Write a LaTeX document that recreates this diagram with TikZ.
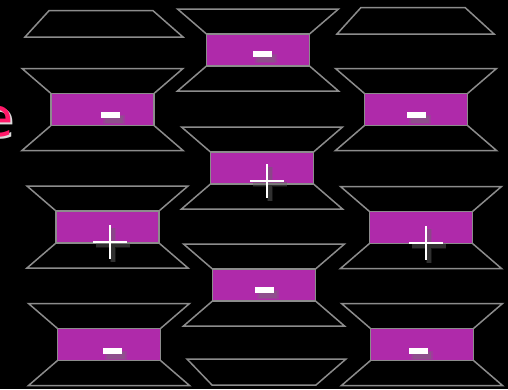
\documentclass[tikz,border=0pt]{standalone}
\usepackage{fontspec}
\setmainfont{DejaVu Sans}
\definecolor{magfill}{RGB}{175,42,170}
\definecolor{framegray}{RGB}{140,140,140}
\definecolor{epink}{RGB}{255,25,105}
\tikzset{
  magbox/.style={draw=framegray, line width=1.3pt, fill=magfill, minimum width=103pt, minimum height=32pt, inner sep=0pt, outer sep=0pt},
  frame/.style={draw=framegray, line width=1.5pt, line join=miter},
  signshadow/.style={draw=black!60, opacity=0.35, line cap=butt},
}
\newcommand\hgunit[3]{%
  \node[magbox] (#1) at (#2,#3) {};
  \draw[frame] (#1.north west) -- ++(-29,-25) -- ++(161,0) -- (#1.north east);
  \draw[frame] (#1.south west) -- ++(-29,25) -- ++(161,0) -- (#1.south east);
}
\newcommand\minussign[2]{%
  \begin{scope}[shift={(#1,#2)}]
    \fill[black!55, opacity=0.25] (-8,0) rectangle (14,9);
    \fill[black!55, opacity=0.35] (-6,1) rectangle (12,8);
    \fill[white] (-9.5,-3) rectangle (9.5,3);
  \end{scope}}
\newcommand\plussign[2]{%
  \begin{scope}[shift={(#1,#2)}]
    \draw[signshadow, line width=6pt, opacity=0.2] (-14,3) -- (20,3) (3,-14) -- (3,20);
    \draw[signshadow, line width=3.5pt] (-14,3) -- (20,3) (3,-14) -- (3,20);
    \draw[white, line width=2.4pt] (-17,0) -- (17,0) (0,-17) -- (0,17);
  \end{scope}}
\begin{document}
\begin{tikzpicture}[x=1pt,y=-1pt]
  \fill[black] (0,0) rectangle (508,389);
  \useasboundingbox (0,0) rectangle (508,389);
  % left letter
  \node[text=white, opacity=0.85, font=\fontsize{54}{54}\selectfont, inner sep=0pt, anchor=base east] (eglow) at (15.5,138) {e};
  \node[text=epink, font=\fontsize{54}{54}\selectfont, inner sep=0pt, anchor=base east] (eletter) at (13.5,136.5) {e};
  % column 1
  \draw[frame] (49,10.7) -- (153,10.7) -- (183,37) -- (25,37) -- cycle;
  \hgunit{a2}{102.5}{109.5}
  \hgunit{a3}{107.5}{227}
  \hgunit{a4}{109}{344.5}
  % column 2
  \hgunit{b1}{258}{50}
  \hgunit{b2}{262}{168}
  \hgunit{b3}{264}{285}
  \draw[frame] (187,359) -- (346,359) -- (316,385) -- (212,385) -- cycle;
  % column 3
  \draw[frame] (361,7.5) -- (465,7.5) -- (494,34) -- (337,34) -- cycle;
  \hgunit{c2}{416}{109.5}
  \hgunit{c3}{421}{227.5}
  \hgunit{c4}{422}{344.5}
  % signs
  \minussign{110.5}{115}
  \plussign{110}{242}
  \minussign{112.5}{351}
  \minussign{262.5}{54}
  \plussign{267}{181}
  \minussign{264.5}{290}
  \minussign{416.5}{115}
  \plussign{426}{243}
  \minussign{418.5}{351}
\end{tikzpicture}
\end{document}
